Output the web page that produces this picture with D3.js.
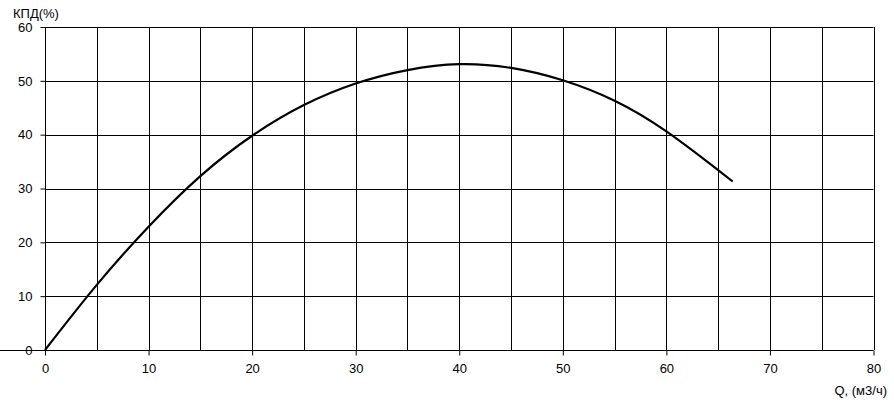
<!DOCTYPE html>
<html>
<head>
<meta charset="utf-8">
<script src="https://cdn.jsdelivr.net/npm/d3@7"></script>
<style>
  html, body { margin: 0; padding: 0; background: #fff; }
  svg { display: block; font-family: "Liberation Sans", Arial, sans-serif; }
</style>
</head>
<body>
<svg id="chart" width="894" height="409"></svg>
<script>
// Data
const flowQ = [0, 5, 10, 15, 20, 25, 30, 35, 40, 45, 50, 55, 60, 65, 66.4];
const efficiency = [0, 12.1, 22.9, 32.3, 39.8, 45.5, 49.5, 52.0, 53.1, 52.4, 50.1, 46.3, 40.6, 33.4, 31.3];
const xTicks = [0, 10, 20, 30, 40, 50, 60, 70, 80];
const yTicks = [0, 10, 20, 30, 40, 50, 60];
const xGrid = [5, 10, 15, 20, 25, 30, 35, 40, 45, 50, 55, 60, 65, 70, 75, 80];
const yGrid = [10, 20, 30, 40, 50, 60];
const yTitle = "КПД(%)";
const xTitle = "Q, (м3/ч)";

const svg = d3.select("#chart");
const mLeft = 45, mRight = 873.5, mTop = 27, mBottom = 350;

const x = d3.scaleLinear().domain([0, 80]).range([mLeft, mRight]);
const y = d3.scaleLinear().domain([0, 60]).range([mBottom, mTop]);

const g = svg.append("g");

// grid
g.selectAll(".vg").data(xGrid).join("line")
  .attr("x1", d => Math.round(x(d)) + 0.5).attr("x2", d => Math.round(x(d)) + 0.5)
  .attr("y1", y(60)).attr("y2", y(0))
  .attr("stroke", "#000").attr("stroke-width", 1);
g.selectAll(".hg").data(yGrid).join("line")
  .attr("y1", d => Math.round(y(d)) + 0.5).attr("y2", d => Math.round(y(d)) + 0.5)
  .attr("x1", x(0)).attr("x2", x(80))
  .attr("stroke", "#000").attr("stroke-width", 1);

// axes
const xAxis = d3.axisBottom(x).tickValues(xTicks).tickSize(5).tickPadding(8).tickFormat(d3.format("d"));
const yAxis = d3.axisLeft(y).tickValues(yTicks).tickSize(5).tickPadding(8).tickFormat(d3.format("d"));

const gx = svg.append("g").attr("transform", `translate(0,${Math.round(y(0)) + 0.5})`).call(xAxis);
const gy = svg.append("g").attr("transform", `translate(${Math.round(x(0)) + 0.5},0)`).call(yAxis);
[gx, gy].forEach(a => {
  a.select(".domain").attr("stroke", "#000").attr("stroke-width", 1);
  a.selectAll(".tick line").attr("stroke", "#000");
  a.selectAll("text").attr("fill", "#000").attr("font-size", 13)
    .attr("font-family", "'Liberation Sans', Arial, sans-serif");
});
gy.select(".domain").attr("d", `M0,${y(60)}V${y(0)}`);
gx.select(".domain").attr("d", `M0,0H${x(80)}`);

// curve
const line = d3.line()
  .x((d, i) => x(flowQ[i]))
  .y(d => y(d))
  .curve(d3.curveNatural);
svg.append("path")
  .attr("d", line(efficiency))
  .attr("fill", "none")
  .attr("stroke", "#000")
  .attr("stroke-width", 2.2)
  .attr("stroke-linecap", "butt");

// titles
svg.append("text").attr("x", 13).attr("y", 18).attr("font-size", 13).attr("fill", "#000").text(yTitle);
svg.append("text").attr("x", 887).attr("y", 395).attr("font-size", 13).attr("fill", "#000")
  .attr("text-anchor", "end").text(xTitle);
</script>
</body>
</html>
